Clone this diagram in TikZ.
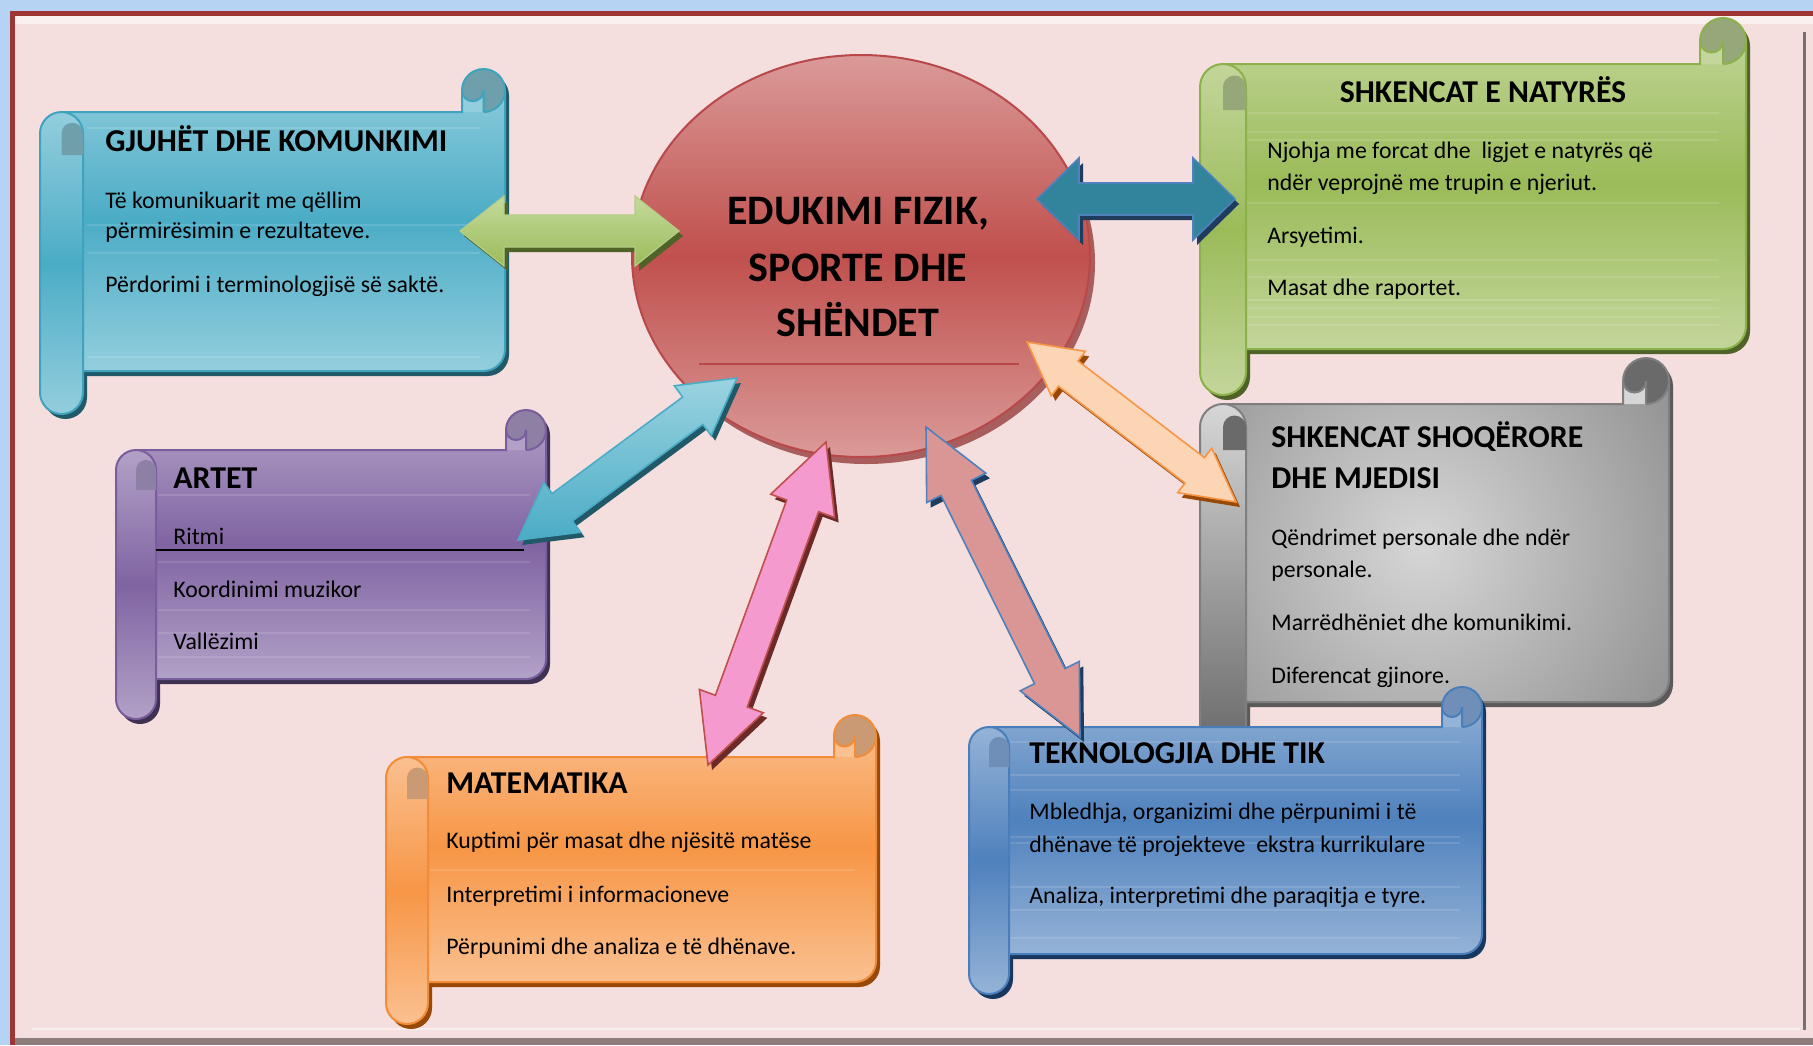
\documentclass[tikz,border=0pt]{standalone}
\usepackage{fontspec}
\setmainfont{Carlito}
\usetikzlibrary{calc}
% frame / background
\definecolor{framebl}{HTML}{B6D3F4}
\definecolor{framered}{HTML}{9E3434}
\definecolor{bgpink}{HTML}{F4DEDE}
\definecolor{rightgray}{HTML}{767070}
\definecolor{botgray}{HTML}{8E7C7C}
% scroll colours
\definecolor{bAmid}{HTML}{4BACC6}\definecolor{bAlight}{HTML}{93CEDD}\definecolor{bAline}{HTML}{3FA3BE}\definecolor{bAdark}{HTML}{215968}\definecolor{bAcurl}{HTML}{6E9FAA}
\definecolor{grmid}{HTML}{9BBB59}\definecolor{grlight}{HTML}{C3D69B}\definecolor{grline}{HTML}{8CB04A}\definecolor{grdark}{HTML}{4F6228}\definecolor{grcurl}{HTML}{96A77A}
\definecolor{pumid}{HTML}{8064A2}\definecolor{pulight}{HTML}{B2A1C7}\definecolor{puline}{HTML}{7A5D9C}\definecolor{pudark}{HTML}{3F3151}\definecolor{pucurl}{HTML}{8E7FA5}
\definecolor{gymid}{HTML}{A0A0A0}\definecolor{gylight}{HTML}{D6D6D6}\definecolor{gyline}{HTML}{7F7F7F}\definecolor{gydark}{HTML}{5A5A5A}\definecolor{gycurl}{HTML}{6A6A6A}\definecolor{gyouter}{HTML}{6A6A6A}
\definecolor{ormid}{HTML}{F79646}\definecolor{orlight}{HTML}{FAC090}\definecolor{orline}{HTML}{F28C38}\definecolor{ordark}{HTML}{984807}\definecolor{orcurl}{HTML}{C99A74}
\definecolor{bBmid}{HTML}{4F81BD}\definecolor{bBlight}{HTML}{95B3D7}\definecolor{bBline}{HTML}{4A7EBB}\definecolor{bBdark}{HTML}{17375E}\definecolor{bBcurl}{HTML}{6F8FB8}
% ellipse
\definecolor{ellmid}{HTML}{C0504D}\definecolor{elllight}{HTML}{DA9A98}\definecolor{ellline}{HTML}{B8484A}\definecolor{ellshadow}{HTML}{8E3432}
% arrows
\definecolor{C5DA9E}{HTML}{C5DA9E}\definecolor{B5CE86}{HTML}{B5CE86}
\definecolor{tealA}{HTML}{31849B}\definecolor{navyA}{HTML}{1F3C5E}
\definecolor{cyanL}{HTML}{9AD3E0}\definecolor{peachA}{HTML}{FCD5B4}
\definecolor{pinkA}{HTML}{F49ACE}\definecolor{brownA}{HTML}{6B2A28}
\definecolor{roseA}{HTML}{D99694}
\tikzset{
 bAbody/.style={top color=bAlight, bottom color=bAlight, middle color=bAmid},
 bAroll/.style={top color=bAlight, bottom color=bAlight, middle color=bAmid},
 grbody/.style={top color=grlight, bottom color=grlight, middle color=grmid},
 grroll/.style={top color=grlight, bottom color=grlight, middle color=grmid},
 pubody/.style={top color=pulight, bottom color=pulight, middle color=pumid},
 puroll/.style={top color=pulight, bottom color=pulight, middle color=pumid},
 gybody/.style={fill=gymid, path picture={\shade[inner color=gylight, outer color=gyouter] (1422,545) circle[radius=470];}},
 gyroll/.style={top color=gylight, bottom color=gyouter},
 orbody/.style={top color=orlight, bottom color=orlight, middle color=ormid},
 orroll/.style={top color=orlight, bottom color=orlight, middle color=ormid},
 bBbody/.style={top color=bBlight, bottom color=bBlight, middle color=bBmid},
 bBroll/.style={top color=bBlight, bottom color=bBlight, middle color=bBmid},
 txt/.style={anchor=base west, inner sep=0pt, font=\fontsize{11.9}{14}\selectfont},
 ttl/.style={anchor=base west, inner sep=0pt, font=\bfseries\fontsize{15.9}{19}\selectfont},
 etxt/.style={anchor=base, inner sep=0pt, font=\bfseries\fontsize{21}{25}\selectfont},
 stripe/.style={white, opacity=0.12, line width=1pt},
 gafill/.style={top color=C5DA9E, bottom color=grmid, draw=B5CE86, line width=0.6pt},
 gashadow/.style={fill=grdark},
 tafill/.style={fill=tealA, draw=bBmid, line width=0.8pt},
 tashadow/.style={fill=navyA},
 cafill/.style={top color=cyanL, bottom color=bAmid, draw=bAmid, line width=0.8pt},
 cashadow/.style={fill=bAdark},
 oafill/.style={fill=peachA, draw=ormid, line width=0.8pt},
 oashadow/.style={fill=ordark},
 pafill/.style={fill=pinkA, draw=ellmid, line width=0.8pt},
 pashadow/.style={fill=brownA},
 rafill/.style={fill=roseA, draw=bBmid, line width=0.8pt},
 rashadow/.style={fill=navyA},
}

\newcommand\scroll[6]{%
\pgfmathsetmacro\sL{#1}\pgfmathsetmacro\sT{#2}\pgfmathsetmacro\sR{#3}\pgfmathsetmacro\sB{#4}%
\pgfmathsetmacro\sc{#5}\pgfmathsetmacro\sh{#5/2}\pgfmathsetmacro\sq{#5/4}%
\pgfmathsetmacro\xa{\sL+\sh}\pgfmathsetmacro\xb{\sL+\sc}\pgfmathsetmacro\xc{\sR-\sc}\pgfmathsetmacro\xd{\sR-\sh}%
\pgfmathsetmacro\ya{\sT+\sh}\pgfmathsetmacro\yb{\sT+\sc}\pgfmathsetmacro\yc{\sT+\sc+\sh}\pgfmathsetmacro\yd{\sB-\sc}\pgfmathsetmacro\ye{\sB-\sc-\sh}\pgfmathsetmacro\yf{\sB-\sh}\pgfmathsetmacro\yg{\sT+2*\sc}%
\begin{scope}[shift={(4,5)}]
\fill[#6dark] (\xa,\yb) -- (\xc,\yb) -- (\xc,\ya) arc[start angle=180,end angle=360,radius=\sh] -- (\sR,\ye) arc[start angle=0,end angle=90,radius=\sh] -- (\xa,\yd) -- cycle;
\fill[#6dark] (\sL,\yc) arc[start angle=180,end angle=360,radius=\sh] -- (\xb,\yf) arc[start angle=0,end angle=180,radius=\sh] -- cycle;
\end{scope}
\path[#6body] (\xa,\yb) -- (\xc,\yb) -- (\xc,\ya) arc[start angle=180,end angle=360,radius=\sh] -- (\sR,\ye) arc[start angle=0,end angle=90,radius=\sh] -- (\xa,\yd) -- cycle;
\fill[#6curl] (\xd,\ya) circle[radius=\sh];
\fill[#6light] (\xc,\ya) arc[start angle=180,end angle=0,radius=\sq] -- (\xd,\yb) -- (\xc,\yb) -- cycle;
\draw[#6line, line width=1pt] (\xa,\yb) -- (\xc,\yb) -- (\xc,\ya) arc[start angle=180,end angle=360,radius=\sh] -- (\sR,\ye) arc[start angle=0,end angle=90,radius=\sh] -- (\xa,\yd);
\draw[#6line, line width=1pt] (\xc,\ya) arc[start angle=180,end angle=0,radius=\sq] -- (\xd,\yb);
\draw[#6line, line width=1pt] (\sR,\ya) arc[start angle=0,end angle=90,radius=\sh];
}
\newcommand\scrollroll[6]{%
\pgfmathsetmacro\sL{#1}\pgfmathsetmacro\sT{#2}\pgfmathsetmacro\sB{#4}%
\pgfmathsetmacro\sc{#5}\pgfmathsetmacro\sh{#5/2}\pgfmathsetmacro\sq{#5/4}%
\pgfmathsetmacro\xa{\sL+\sh}\pgfmathsetmacro\xb{\sL+\sc}%
\pgfmathsetmacro\yc{\sT+\sc+\sh}\pgfmathsetmacro\yf{\sB-\sh}\pgfmathsetmacro\yg{\sT+2*\sc}%
\path[#6roll, draw=#6line, line width=1pt] (\sL,\yc) arc[start angle=180,end angle=360,radius=\sh] -- (\xb,\yf) arc[start angle=0,end angle=180,radius=\sh] -- cycle;
\fill[#6curl] (\xa,\yg) -- (\xa,\yc) arc[start angle=180,end angle=360,radius=\sq] -- (\xb,\yg) -- cycle;
}
\newcommand\stripes[3]{\foreach \yy in {#3} {\draw[stripe] (#1,\yy) -- (#2,\yy);}}
\newcommand\arrowpath[4]{(#1) -- ($(P1)!#4!90:(#2)$) -- ($(P1)!#3!90:(#2)$) -- ($(Q1)!#3!-90:(#1)$) -- ($(Q1)!#4!-90:(#1)$) -- (#2) -- ($(Q1)!#4!90:(#1)$) -- ($(Q1)!#3!90:(#1)$) -- ($(P1)!#3!-90:(#2)$) -- ($(P1)!#4!-90:(#2)$) -- cycle}
\newcommand\dblarrow[6]{%
\coordinate (P1) at ($(#1)!#5!(#2)$);
\coordinate (Q1) at ($(#2)!#5!(#1)$);
\begin{scope}[transform canvas={shift={(2pt,-2.5pt)}}]
\fill[#6shadow] \arrowpath{#1}{#2}{#3}{#4};
\end{scope}
\path[#6fill] \arrowpath{#1}{#2}{#3}{#4};
}

\begin{document}
\begin{tikzpicture}[x=0.5pt,y=-0.5pt]
\useasboundingbox (0,0) rectangle (1813,1045);
% frame
\fill[white] (0,0) rectangle (1813,1045);
\fill[framebl] (0,0) rectangle (1813,11);
\fill[framebl] (0,0) rectangle (10,1045);
\fill[framered] (10,11) rectangle (1813,16);
\fill[framered] (10,11) rectangle (15,1045);
\fill[bgpink] (15,24) rectangle (1813,1038);
\fill[white!55!bgpink] (15,16) rectangle (1813,24);
\fill[botgray] (15,1038) rectangle (1813,1045);
\draw[rightgray, line width=1.5pt] (1804,32) -- (1804,1030);
\draw[white!50!bgpink, line width=1pt] (32,1029) -- (1800,1029);

% scroll: languages
\scroll{40}{69}{505}{414}{43}{bA}
\stripes{87}{480}{128,225,253,357}
\scrollroll{40}{69}{505}{414}{43}{bA}
\node[ttl] (g0) at (105,151) {GJUHËT DHE KOMUNKIMI};
\node[txt] (g1) at (105,208) {Të komunikuarit me qëllim};
\node[txt] (g2) at (105,238) {përmirësimin e rezultateve.};
\node[txt] (g3) at (105,292) {Përdorimi i terminologjisë së saktë.};

% scroll: natural sciences
\scroll{1200}{18}{1746}{395}{46}{gr}
\stripes{1247}{1719}{113,132,140,203,260,277,300,308,317,325}
\scrollroll{1200}{18}{1746}{395}{46}{gr}
\node[ttl, anchor=base] (n0) at (1483,102) {SHKENCAT E NATYRËS};
\node[txt] (n1) at (1267,158) {Njohja me forcat dhe\ \ ligjet e natyrës që};
\node[txt] (n2) at (1267,190) {ndër veprojnë me trupin e njeriut.};
\node[txt] (n3) at (1267,243) {Arsyetimi.};
\node[txt] (n4) at (1267,295) {Masat dhe raportet.};

% scroll: arts
\scroll{116}{410}{546}{719}{40}{pu}
\stripes{158}{530}{495,562,610,633,657}
\scrollroll{116}{410}{546}{719}{40}{pu}
\node[ttl] (a0) at (173,488) {ARTET};
\node[txt] (a1) at (173,544) {Ritmi};
\node[txt] (a2) at (173,597) {Koordinimi muzikor};
\node[txt] (a3) at (173,649) {Vallëzimi};
\draw[black, line width=1pt] (156,550) -- (524,550);

% scroll: social sciences
\scroll{1200}{358}{1669}{748}{46}{gy}
\scrollroll{1200}{358}{1669}{748}{46}{gy}
\node[ttl] (s0) at (1271,447) {SHKENCAT SHOQËRORE};
\node[ttl] (s0b) at (1271,488) {DHE MJEDISI};
\node[txt] (s1) at (1271,545) {Qëndrimet personale dhe ndër};
\node[txt] (s2) at (1271,577) {personale.};
\node[txt] (s3) at (1271,630) {Marrëdhëniet dhe komunikimi.};
\node[txt] (s4) at (1271,683) {Diferencat gjinore.};

% scroll: mathematics
\scroll{386}{715}{876}{1024}{42}{or}
\stripes{430}{855}{870}
\scrollroll{386}{715}{876}{1024}{42}{or}
\node[ttl] (m0) at (446,793) {MATEMATIKA};
\node[txt] (m1) at (446,848) {Kuptimi për masat dhe njësitë matëse};
\node[txt] (m2) at (446,902) {Interpretimi i informacioneve};
\node[txt] (m3) at (446,954) {Përpunimi dhe analiza e të dhënave.};

% scroll: technology
\scroll{969}{687}{1482}{994}{40}{bB}
\stripes{1010}{1460}{742,775,790,837,843,887,910,938}
\scrollroll{969}{687}{1482}{994}{40}{bB}
\node[ttl] (k0) at (1029,763) {TEKNOLOGJIA DHE TIK};
\node[txt] (k1) at (1029,819) {Mbledhja, organizimi dhe përpunimi i të};
\node[txt] (k2) at (1029,852) {dhënave të projekteve\ \ ekstra kurrikulare};
\node[txt] (k3) at (1029,903) {Analiza, interpretimi dhe paraqitja e tyre.};

% central ellipse
\fill[ellshadow, opacity=0.75] (866,263) ellipse[x radius=229, y radius=201];
\shade[top color=elllight, bottom color=elllight, middle color=ellmid, draw=ellline, line width=1pt] (861,256) ellipse[x radius=229, y radius=201];
\node[etxt] (e1) at (858,224) {EDUKIMI FIZIK,};
\node[etxt] (e2) at (858,281) {SPORTE DHE};
\node[etxt] (e3) at (858,336) {SHËNDET};
\draw[ellline, line width=1pt] (699,364) -- (1019,364);

% arrows
\coordinate (gA) at (460,231); \coordinate (gB) at (679,231);
\coordinate (tA) at (1037,199); \coordinate (tB) at (1235,199);
\coordinate (cA) at (518,540); \coordinate (cB) at (737,378);
\coordinate (oA) at (1027,342); \coordinate (oB) at (1236,502);
\coordinate (pA) at (826,442); \coordinate (pB) at (708,765);
\coordinate (rA) at (926,427); \coordinate (rB) at (1080,737);
\dblarrow{gA}{gB}{8pt}{17.5pt}{22pt}{ga}
\dblarrow{tA}{tB}{8pt}{20.5pt}{21pt}{ta}
\dblarrow{cA}{cB}{8.5pt}{15.5pt}{27.5pt}{ca}
\dblarrow{oA}{oB}{8pt}{14pt}{26pt}{oa}
\dblarrow{pA}{pB}{8.5pt}{17pt}{34pt}{pa}
\dblarrow{rA}{rB}{8.5pt}{16.5pt}{34pt}{ra}
\end{tikzpicture}
\end{document}
